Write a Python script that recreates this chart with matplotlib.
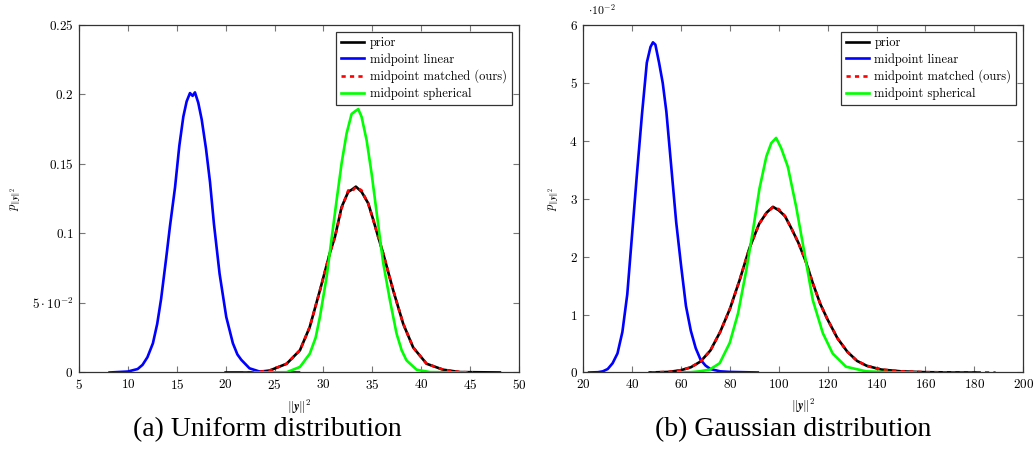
import numpy as np
import matplotlib
matplotlib.use("Agg")
import matplotlib.pyplot as plt
from matplotlib.ticker import FixedLocator, FixedFormatter

plt.rcParams['mathtext.fontset'] = 'cm'
plt.rcParams['font.family'] = ['cmr10', 'DejaVu Serif']
plt.rcParams['axes.unicode_minus'] = False

# ---------------- (a) uniform ----------------
uni_prior_x = [20.0, 22.8, 24.5, 26.24, 27.6, 28.6, 29.64, 30.66, 31.18, 31.86, 32.54, 32.9, 33.32, 33.9,
               34.58, 35.09, 35.6, 36.11, 37.14, 38.16, 39.18, 40.55, 42.25, 43.96, 48.05]
uni_prior_y = [0.0, 0.0, 0.0014, 0.0063, 0.016, 0.0327, 0.059, 0.086, 0.0976, 0.119, 0.130, 0.1315, 0.1337, 0.130,
               0.1217, 0.110, 0.0976, 0.0857, 0.059, 0.035, 0.018, 0.0063, 0.002, 0.0003, 0.0]

uni_matched_x = [21.8, 22.8, 24.5, 26.24, 27.6, 28.6, 29.64, 30.66, 31.18, 31.86, 32.54, 32.9, 33.32, 33.9,
                 34.58, 35.09, 35.6, 36.11, 37.14, 38.16, 39.18, 40.55, 42.25, 43.96, 45.3]
uni_matched_y = [0.0, 0.0, 0.0014, 0.0063, 0.016, 0.0327, 0.059, 0.086, 0.0976, 0.118, 0.131, 0.130, 0.1335, 0.131,
                 0.1215, 0.110, 0.0976, 0.0857, 0.059, 0.035, 0.018, 0.0063, 0.002, 0.0003, 0.0]

uni_linear_x = [8.13, 10.0, 11.0, 11.5, 12.0, 12.56, 13.0, 13.4, 13.93, 14.3, 14.82, 15.26, 15.67, 16.01,
                16.35, 16.62, 16.86, 17.2, 17.55, 17.99, 18.4, 18.8, 19.38, 20.06, 20.74, 21.2, 21.6,
                22.44, 23.46, 24.5, 27.5]
uni_linear_y = [0.0, 0.0007, 0.0025, 0.0055, 0.011, 0.021, 0.035, 0.053, 0.083, 0.105, 0.133, 0.163, 0.184, 0.195,
                0.201, 0.199, 0.2015, 0.194, 0.182, 0.161, 0.137, 0.107, 0.071, 0.040, 0.021, 0.013, 0.0091,
                0.003, 0.0007, 0.0001, 0.0]

uni_sph_x = [23.0, 26.24, 27.6, 28.6, 29.2, 29.64, 30.33, 30.84, 31.35, 31.86, 32.37, 32.88, 33.22, 33.56,
             33.9, 34.42, 34.93, 35.37, 35.78, 36.11, 36.8, 37.48, 38.0, 38.5, 39.53, 40.89, 44.5]
uni_sph_y = [0.0, 0.0002, 0.004, 0.0135, 0.025, 0.040, 0.069, 0.0965, 0.124, 0.1506, 0.172, 0.186, 0.1878, 0.1895,
             0.184, 0.167, 0.143, 0.119, 0.0965, 0.079, 0.052, 0.028, 0.016, 0.0087, 0.002, 0.0003, 0.0]

# ---------------- (b) gaussian (values in units of 1e-2) ----------------
gau_prior_x = [47.2, 55, 60, 64, 68, 72, 76, 80, 84, 88, 92, 95, 97.6, 100, 102.5, 105, 108, 111, 114,
               117, 120, 124, 128, 132, 136, 142, 150, 160, 170, 182]
gau_prior_y = [0.0, 0.01, 0.04, 0.09, 0.19, 0.38, 0.70, 1.10, 1.60, 2.15, 2.57, 2.76, 2.86, 2.80, 2.70, 2.50,
               2.24, 1.92, 1.53, 1.18, 0.91, 0.59, 0.36, 0.20, 0.115, 0.05, 0.02, 0.005, 0.002, 0.0]

gau_matched_x = [47.9, 55, 60, 64, 68, 72, 76, 80, 84, 88, 92, 95, 97.6, 100, 102.5, 105, 108, 111, 114,
                 117, 120, 124, 128, 132, 136, 142, 150, 160, 170, 188.7]
gau_matched_y = [0.0, 0.01, 0.04, 0.09, 0.19, 0.38, 0.70, 1.10, 1.60, 2.15, 2.57, 2.76, 2.85, 2.82, 2.70, 2.50,
                 2.24, 1.92, 1.53, 1.18, 0.91, 0.59, 0.36, 0.20, 0.115, 0.05, 0.02, 0.005, 0.002, 0.0]

gau_linear_x = [22.4, 26, 28, 30, 32, 34, 36, 38, 40, 42, 44, 46, 47.5, 48.5, 49.5, 51, 52.5, 54, 56, 58,
                60, 62, 64, 66, 68, 70, 72, 76, 80, 91.4]
gau_linear_y = [0.0, 0.005, 0.02, 0.06, 0.16, 0.33, 0.70, 1.35, 2.40, 3.45, 4.45, 5.35, 5.62, 5.70, 5.66,
                5.35, 5.0, 4.5, 3.55, 2.6, 1.85, 1.15, 0.72, 0.42, 0.22, 0.12, 0.06, 0.02, 0.01, 0.0]

gau_sph_x = [58.8, 64, 67.6, 71.7, 75.8, 79.9, 83.3, 86.7, 89.4, 92.1, 94.9, 96.9, 98.9, 101.0, 103.7,
             107.1, 110.5, 113.9, 118, 122, 127.5, 135.7, 145, 156]
gau_sph_y = [0.0, 0.005, 0.02, 0.05, 0.16, 0.51, 1.02, 1.77, 2.45, 3.18, 3.73, 3.96, 4.05, 3.87, 3.55,
             2.86, 2.06, 1.25, 0.68, 0.33, 0.10, 0.02, 0.005, 0.0]

series_labels = ["prior", "midpoint linear", "midpoint matched (ours)", "midpoint spherical"]

uni_xticks = [5, 10, 15, 20, 25, 30, 35, 40, 45, 50]
uni_yticks = [0, 0.05, 0.1, 0.15, 0.2, 0.25]
uni_ytick_labels = ["0", r"5\cdot10^{-2}", "0.1", "0.15", "0.2", "0.25"]
gau_xticks = [20, 40, 60, 80, 100, 120, 140, 160, 180, 200]
gau_yticks = [0, 1, 2, 3, 4, 5, 6]

captions = ["(a) Uniform distribution", "(b) Gaussian distribution"]

LW = 1.9
fig = plt.figure(figsize=(10.34, 4.49), dpi=100)
ax1 = fig.add_axes([0.0764, 0.1704, 0.4255, 0.774])
ax2 = fig.add_axes([0.5641, 0.1704, 0.4255, 0.774])


def draw(ax, prior, linear, matched, sph):
    ax.plot(*prior, color='black', lw=LW, label=series_labels[0])
    ax.plot(*linear, color='#0000ff', lw=LW, label=series_labels[1])
    ax.plot(*matched, color='#ff0000', lw=LW, ls=(0, (1.6, 1.6)), label=series_labels[2])
    ax.plot(*sph, color='#00ff00', lw=LW, label=series_labels[3])
    leg = ax.legend(loc='upper right', fontsize=9, frameon=True, fancybox=False,
                    borderaxespad=0.55, handlelength=1.85, handletextpad=0.45,
                    labelspacing=0.32, borderpad=0.4)
    leg.get_frame().set_edgecolor('black')
    leg.get_frame().set_linewidth(0.9)
    for s in ax.spines.values():
        s.set_color('#333333')
        s.set_linewidth(0.9)
    ax.tick_params(direction='in', top=True, right=True, length=4, width=0.8,
                   color='#777777', labelsize=9.5, pad=4)
    ax.set_xlabel(r"$\|\boldsymbol{y}\|^2$", fontsize=9, labelpad=4)
    ax.set_ylabel(r"$p_{\|\boldsymbol{y}\|^2}$", fontsize=9, labelpad=6)


draw(ax1, (uni_prior_x, uni_prior_y), (uni_linear_x, uni_linear_y),
     (uni_matched_x, uni_matched_y), (uni_sph_x, uni_sph_y))
ax1.set_xlim(5, 50)
ax1.set_ylim(0, 0.25)
ax1.xaxis.set_major_locator(FixedLocator(uni_xticks))
ax1.xaxis.set_major_formatter(FixedFormatter([f"${v}$" for v in uni_xticks]))
ax1.yaxis.set_major_locator(FixedLocator(uni_yticks))
ax1.yaxis.set_major_formatter(FixedFormatter([f"${s}$" for s in uni_ytick_labels]))

draw(ax2, (gau_prior_x, gau_prior_y), (gau_linear_x, gau_linear_y),
     (gau_matched_x, gau_matched_y), (gau_sph_x, gau_sph_y))
ax2.set_xlim(20, 200)
ax2.set_ylim(0, 6)
ax2.xaxis.set_major_locator(FixedLocator(gau_xticks))
ax2.xaxis.set_major_formatter(FixedFormatter([f"${v}$" for v in gau_xticks]))
ax2.yaxis.set_major_locator(FixedLocator(gau_yticks))
ax2.yaxis.set_major_formatter(FixedFormatter([f"${v}$" for v in gau_yticks]))
ax2.text(0.01, 1.022, r"$\cdot10^{-2}$", transform=ax2.transAxes, fontsize=8.5,
         ha='left', va='bottom')

# subfigure captions, centred on the whole sub-panel (incl. y label)
for xc, cap in zip([0.2587, 0.7674], captions):
    fig.text(xc, 0.043, cap, ha='center', va='center',
             fontsize=20, family='Liberation Serif')

fig.savefig("out.png", dpi=100)
